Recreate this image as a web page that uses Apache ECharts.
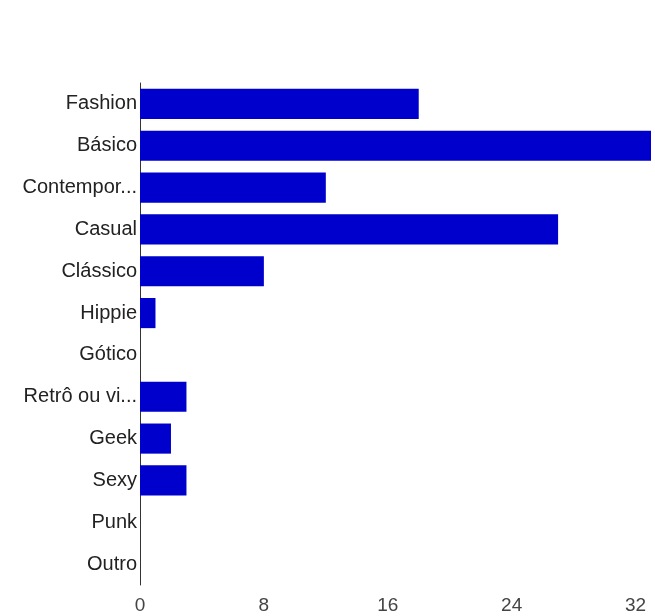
<!DOCTYPE html>
<html>
<head>
<meta charset="utf-8">
<script src="https://cdn.jsdelivr.net/npm/echarts@6/dist/echarts.min.js"></script>
<style>html,body{margin:0;padding:0;background:#fff;}#c{width:655px;height:616px;}</style>
</head>
<body>
<div id="c"></div>
<script>
const categories = ["Fashion","Básico","Contempor...","Casual","Clássico","Hippie","Gótico","Retrô ou vi...","Geek","Sexy","Punk","Outro"];
const values = [18,33,12,27,8,1,0,3,2,3,0,0];
const tickValues = [0,8,16,24,32];

const chart = echarts.init(document.getElementById('c'), null, {renderer:'canvas'});
chart.setOption({
  animation:false,
  backgroundColor:'#ffffff',
  grid:{left:140, top:83, right:4, bottom:31, containLabel:false},
  xAxis:{
    type:'value', min:0, max:33, interval:8,
    axisLine:{show:false}, axisTick:{show:false}, splitLine:{show:false},
    axisLabel:{
      margin:11, color:'#444', fontSize:19, fontFamily:'Liberation Sans, Arial, sans-serif',
      showMaxLabel:false,
      formatter:function(v){ return tickValues.indexOf(v) >= 0 ? String(v) : ''; }
    }
  },
  yAxis:{
    type:'category', data:categories, inverse:true,
    axisLine:{show:true, lineStyle:{color:'#333', width:1}},
    axisTick:{show:false},
    axisLabel:{margin:3, color:'#222', fontSize:20, fontFamily:'Liberation Sans, Arial, sans-serif'}
  },
  series:[{
    type:'bar', data:values, barCategoryGap:'28%',
    itemStyle:{color:'#0000cc'}
  }]
});
</script>
</body>
</html>
